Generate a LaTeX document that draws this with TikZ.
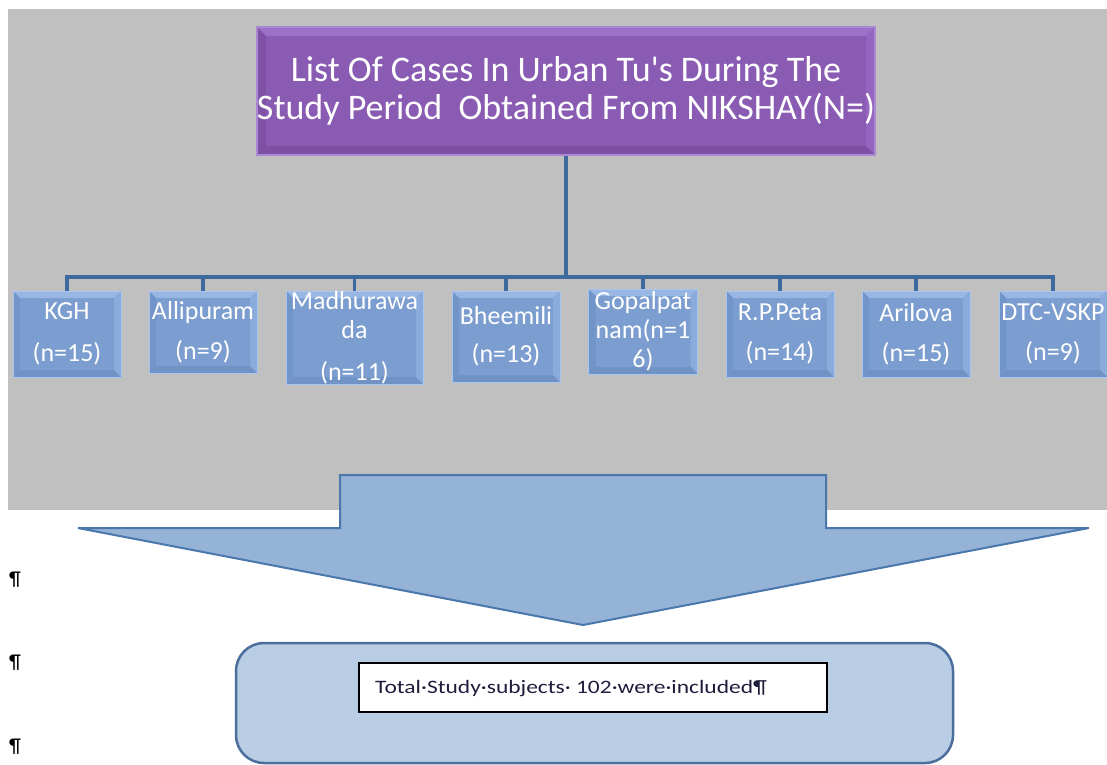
\documentclass[tikz,border=0pt]{standalone}
\usepackage{fontspec}
\usepackage{graphicx}
\setmainfont{Carlito}
\usetikzlibrary{calc}
\definecolor{bggray}{HTML}{C0C0C0}
\definecolor{conncol}{HTML}{3D6A9C}
\definecolor{pmid}{HTML}{8A5BB2}
\definecolor{ptop}{HTML}{9D70C9}
\definecolor{pleft}{HTML}{7E51A5}
\definecolor{pright}{HTML}{9566BF}
\definecolor{pbot}{HTML}{7D50A3}
\definecolor{pedge}{HTML}{AA88D2}
\definecolor{bmid}{HTML}{7B9DCF}
\definecolor{btop}{HTML}{98B7E4}
\definecolor{bleft}{HTML}{7295C9}
\definecolor{bright}{HTML}{8AABDC}
\definecolor{bbot}{HTML}{7192C5}
\definecolor{bedge}{HTML}{A9C6EF}
\definecolor{arrfill}{HTML}{95B3D7}
\definecolor{arredge}{HTML}{4A77AC}
\definecolor{resfill}{HTML}{B9CDE5}
\definecolor{resedge}{HTML}{4B6E9C}
\definecolor{txtdark}{HTML}{1E1E3C}
\tikzset{
  bevel/.style n args={5}{path picture={
    \coordinate (NW) at (path picture bounding box.north west);
    \coordinate (NE) at (path picture bounding box.north east);
    \coordinate (SE) at (path picture bounding box.south east);
    \coordinate (SW) at (path picture bounding box.south west);
    \fill[#1] (NW) -- (NE) -- ([shift={(-#5,#5)}]NE) -- ([shift={(#5,#5)}]NW) -- cycle;
    \fill[#2] (NW) -- ([shift={(#5,#5)}]NW) -- ([shift={(#5,-#5)}]SW) -- (SW) -- cycle;
    \fill[#3] (NE) -- (SE) -- ([shift={(-#5,-#5)}]SE) -- ([shift={(-#5,#5)}]NE) -- cycle;
    \fill[#4] (SW) -- ([shift={(#5,-#5)}]SW) -- ([shift={(-#5,-#5)}]SE) -- (SE) -- cycle;
  }},
  topbox/.style={rectangle, fill=pmid, draw=pedge, line width=1.5pt,
    bevel={ptop}{pleft}{pright}{pbot}{9},
    text=white, align=center, inner sep=0pt,
    font=\fontsize{36}{38}\selectfont},
  tubox/.style={rectangle, fill=bmid, draw=bedge, line width=1pt,
    bevel={btop}{bleft}{bright}{bbot}{7},
    text=white, align=center, inner sep=0pt,
    font=\fontsize{26}{29}\selectfont},
  conn/.style={draw=conncol, line width=3.5pt},
  bigarrow/.style={fill=arrfill, draw=arredge, line width=2pt, line join=miter},
  resbox/.style={rectangle, rounded corners=28pt, fill=resfill, draw=resedge, line width=2.5pt},
  totbox/.style={rectangle, fill=white, draw=black, line width=2pt},
  pil/.style={font=\fontsize{20}{20}\selectfont, text=black, inner sep=0pt}
}
\begin{document}
\begin{tikzpicture}[x=1pt,y=-1pt]
\useasboundingbox (0,0) rectangle (1107,764);
\fill[white] (0,0) rectangle (1107,764);
\fill[bggray] (8,9) rectangle (1107,510);

\node[topbox, minimum width=618pt, minimum height=128pt] (top) at (566,91)
  {List Of Cases In Urban Tu\textquotesingle s During The\\Study Period\ \ Obtained From NIKSHAY(N=)};

\node[tubox, minimum width=108pt, minimum height=86pt] (kgh) at (67,334) {KGH\\[13pt](n=15)};
\node[tubox, minimum width=108pt, minimum height=82pt] (alli) at (203,332) {Allipuram\\[11pt](n=9)};
\node[tubox, minimum width=137pt, minimum height=93pt] (madh) at (354.5,337.5) {Madhurawa\\da\\[13pt](n=11)};
\node[tubox, minimum width=108pt, minimum height=91pt] (bhee) at (506,336.5) {Bheemili\\[9pt](n=13)};
\node[tubox, minimum width=109pt, minimum height=85pt] (gopa) at (643,331.5) {Gopalpat\\nam(n=1\\6)};
\node[tubox, minimum width=108pt, minimum height=86pt] (rpp) at (780,334) {R.P.Peta\\[11pt](n=14)};
\node[tubox, minimum width=108pt, minimum height=86pt] (aril) at (916,334) {Arilova\\[11pt](n=15)};
\node[tubox, minimum width=108pt, minimum height=86pt] (dtc) at (1053,334) {DTC-VSKP\\[11pt](n=9)};

\coordinate (hub) at (566,277);
\draw[conn] (top.south) -- (hub);
\foreach \b in {kgh,alli,madh,bhee,gopa,rpp,aril,dtc}{
  \draw[conn] (\b.north) |- (hub);
}

\path[bigarrow] (78,528) -- (340,528) -- (340,475) -- (826,475) -- (826,528)
  -- (1089,528) -- (583,625) -- cycle;

\node[resbox, minimum width=717pt, minimum height=120pt] (res) at (594.5,703) {};
\node[totbox, minimum width=468pt, minimum height=49pt] (tot) at (593,687.5) {};
\node[anchor=west, text=txtdark, inner sep=0pt, font=\fontsize{19}{20}\selectfont] (tottxt) at (375,689)
  {\scalebox{1.235}[1]{Total·Study·subjects·\ 102·were·included¶}};

\node[pil] (p1) at (15,580) {¶};
\node[pil] (p2) at (15,663) {¶};
\node[pil] (p3) at (15,747) {¶};
\end{tikzpicture}
\end{document}
